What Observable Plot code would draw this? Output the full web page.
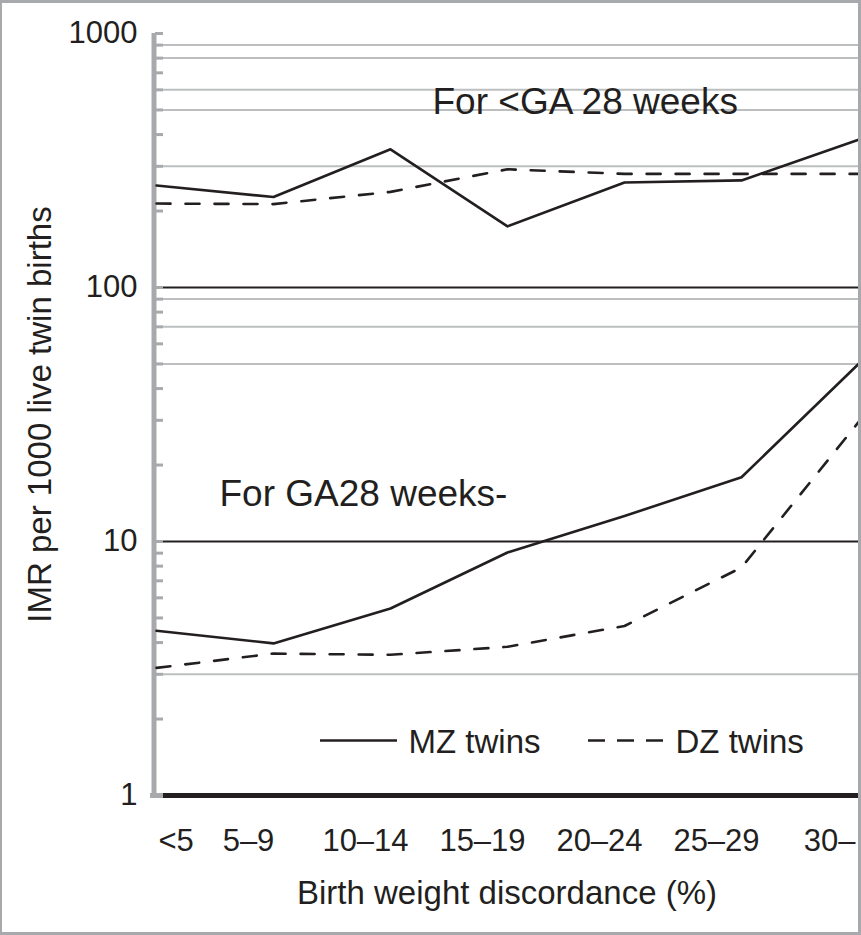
<!DOCTYPE html>
<html><head><meta charset="utf-8">
<script src="https://cdn.jsdelivr.net/npm/d3@7"></script>
<script src="https://cdn.jsdelivr.net/npm/@observablehq/plot@0.6"></script>
<style>
html,body{margin:0;padding:0;background:#fff;}
#wrap{position:relative;width:861px;height:935px;overflow:hidden;}
#border{position:absolute;left:0;top:0;width:861px;height:935px;box-sizing:border-box;border:2px solid #a7a9ac;border-top-width:3px;border-right-width:3px;border-bottom-width:3px;pointer-events:none;}
</style></head><body>
<div id="wrap"><div id="chart"></div><div id="border"></div></div>
<script>
// ---- data ----
const categories = ["<5", "5\u20139", "10\u201314", "15\u201319", "20\u201324", "25\u201329", "30\u2013"];
const upperMZ = [252, 227, 350, 174, 259, 264, 382];   // GA < 28 weeks, MZ twins
const upperDZ = [214, 213, 238, 292, 280, 280, 280];   // GA < 28 weeks, DZ twins
const lowerMZ = [4.45, 3.97, 5.45, 9.05, 12.6, 17.9, 50]; // GA >= 28 weeks, MZ twins
const lowerDZ = [3.18, 3.62, 3.58, 3.85, 4.65, 7.9, 29.5]; // GA >= 28 weeks, DZ twins
const yTickLabels = [1, 10, 100, 1000];
const minorTicks = [1, 10, 100].flatMap(d => [1,2,3,4,5,6,7,8,9].map(k => k * d)).concat([1000]);
const gridValues = [900, 800, 600, 500, 300, 90, 70, 50, 3];
const blackRules = [10, 100];
const annotations = ["For <GA 28 weeks", "For GA28 weeks-"];
const legendLabels = ["MZ twins", "DZ twins"];
const xTitle = "Birth weight discordance (%)";
const yTitle = "IMR per 1000 live twin births";

const toRows = vals => categories.map((c, i) => ({x: c, y: vals[i]}));

const ink = "#231f20";
const gray = "#a7a9ac";
const grid = "#bcbec0";

const chart = Plot.plot({
  width: 861, height: 935,
  marginLeft: 155, marginRight: 3, marginTop: 33, marginBottom: 140,
  style: {fontFamily: "'Liberation Sans', Arial, Helvetica, sans-serif", color: ink, background: "#fff", overflow: "visible"},
  x: {type: "point", domain: categories, padding: 0, axis: null},
  y: {type: "log", domain: [1, 1000], axis: null},
  marks: [
    Plot.ruleY(gridValues, {stroke: grid, strokeWidth: 2, insetLeft: 8}),
    Plot.ruleY(blackRules, {stroke: ink, strokeWidth: 2, insetLeft: 8}),
    Plot.ruleY([1], {stroke: gray, strokeWidth: 5, insetLeft: -5}),
    Plot.ruleY([1], {stroke: ink, strokeWidth: 5, insetLeft: 8}),
    Plot.ruleX([categories[0]], {x: d => d, y1: 1, y2: 1000, stroke: gray, strokeWidth: 5, dx: -2.5}),
    Plot.axisY({ticks: minorTicks, tickSize: 8, dx: 8, tickFormat: () => "", stroke: gray, strokeWidth: 3, label: null}),
    Plot.axisY({ticks: yTickLabels, tickSize: 0, tickPadding: 18, fontSize: 31, fill: ink, tickFormat: d => String(d), label: null}),
    // data lines
    Plot.line(toRows(upperMZ), {x: "x", y: "y", stroke: ink, strokeWidth: 2.6}),
    Plot.line(toRows(upperDZ), {x: "x", y: "y", stroke: ink, strokeWidth: 2.6, strokeDasharray: "14,15"}),
    Plot.line(toRows(lowerMZ), {x: "x", y: "y", stroke: ink, strokeWidth: 2.6}),
    Plot.line(toRows(lowerDZ), {x: "x", y: "y", stroke: ink, strokeWidth: 2.6, strokeDasharray: "14,15"}),
    // x tick labels
    Plot.text([categories[0]], {x: d => d, frameAnchor: "bottom", dy: 55, dx: 2, lineAnchor: "bottom", textAnchor: "start", fontSize: 31, fill: ink}),
    Plot.text(categories.slice(1, -1), {x: d => d, frameAnchor: "bottom", dy: 55, dx: -25, lineAnchor: "bottom", textAnchor: "middle", fontSize: 31, fill: ink}),
    Plot.text(categories.slice(-1), {x: d => d, frameAnchor: "bottom", dy: 55, dx: -3, lineAnchor: "bottom", textAnchor: "end", fontSize: 31, fill: ink}),
    // axis titles
    Plot.text([xTitle], {frameAnchor: "bottom", dy: 108, lineAnchor: "bottom", textAnchor: "middle", fontSize: 33, fill: ink}),
    Plot.text([yTitle], {frameAnchor: "left", dx: -115, rotate: -90, textAnchor: "middle", lineAnchor: "middle", fontSize: 33, fill: ink}),
    // annotations
    Plot.text([annotations[0]], {frameAnchor: "top-left", dx: 277, dy: 80, textAnchor: "start", lineAnchor: "bottom", fontSize: 37, fill: ink}),
    Plot.text([annotations[1]], {frameAnchor: "top-left", dx: 64, dy: 472, textAnchor: "start", lineAnchor: "bottom", fontSize: 37, fill: ink}),
    // legend
    Plot.ruleY([1], {dy: -55, insetLeft: 165, insetRight: 461, stroke: ink, strokeWidth: 2.5}),
    Plot.ruleY([1], {dy: -55, insetLeft: 433, insetRight: 195, stroke: ink, strokeWidth: 2.5, strokeDasharray: "17,12"}),
    Plot.text([legendLabels[0]], {frameAnchor: "bottom-left", dx: 253, dy: -43, textAnchor: "start", lineAnchor: "bottom", fontSize: 33, fill: ink}),
    Plot.text([legendLabels[1]], {frameAnchor: "bottom-left", dx: 520, dy: -43, textAnchor: "start", lineAnchor: "bottom", fontSize: 33, fill: ink})
  ]
});
document.getElementById("chart").appendChild(chart);
</script>
</body></html>
